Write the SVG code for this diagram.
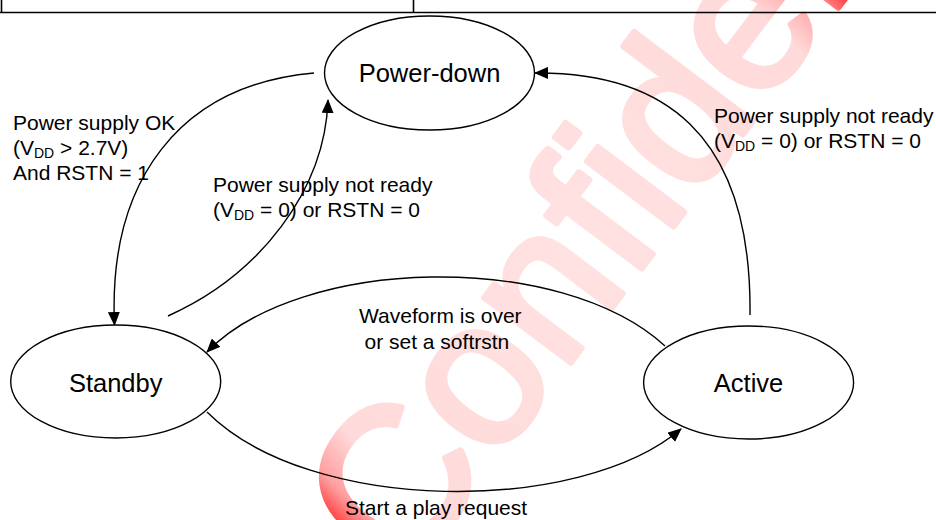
<svg xmlns="http://www.w3.org/2000/svg" width="936" height="520" viewBox="0 0 936 520">
  <defs>
    <radialGradient id="wm" gradientUnits="userSpaceOnUse" cx="372" cy="-60" r="370">
      <stop offset="0" stop-color="#ffe2e2"/>
      <stop offset="0.8" stop-color="#ffdada"/>
      <stop offset="0.92" stop-color="#ffa0a0"/>
      <stop offset="1" stop-color="#ff3030"/>
    </radialGradient>
    <marker id="arr" viewBox="0 0 14 12" refX="13" refY="6" markerWidth="14" markerHeight="12" markerUnits="userSpaceOnUse" orient="auto">
      <path d="M0,0 L14,6 L0,12 Z" fill="#000"/>
    </marker>
  </defs>
  <style>
    .node { fill: none; stroke: #000; stroke-width: 1.4; }
    .nlabel { font-family: "Liberation Sans", Arial, sans-serif; font-size: 25.5px; fill: #000; text-anchor: middle; }
    .elabel { font-family: "Liberation Sans", Arial, sans-serif; font-size: 21px; fill: #000; }
    .sub { font-size: 14px; }
    .edge { fill: none; stroke: #000; stroke-width: 1.4; marker-end: url(#arr); }
    .tbl { stroke: #000; stroke-width: 1.6; fill: none; }
  </style>
  <rect width="936" height="520" fill="#fff"/>

  <!-- watermark -->
  <g transform="translate(404.6,583.4) rotate(-53)">
    <text x="0" y="0" font-family="Liberation Sans, Arial, sans-serif" font-size="205" fill="url(#wm)" stroke="url(#wm)" stroke-width="6" stroke-linejoin="round">Confidential</text>
  </g>

  <!-- table remnant -->
  <g id="table">
    <line class="tbl" x1="0" y1="12.5" x2="936" y2="12.5"/>
    <line class="tbl" x1="1.5" y1="0" x2="1.5" y2="12.5"/>
    <line class="tbl" x1="413.5" y1="0" x2="413.5" y2="12.5"/>
  </g>

  <g id="connectors">
    <path class="edge" d="M314,73 C180,85 108,180 114.5,325"/>
    <path class="edge" d="M168,316 C260,275 325,190 328,100"/>
    <path class="edge" d="M750,315 C752,130 660,72 535,73"/>
    <path class="edge" d="M665,346 C560,250 300,256 207,352"/>
    <path class="edge" d="M207,412 C310,515 580,515 681,429"/>
  </g>

  <g id="node-powerdown">
    <ellipse class="node" cx="429.5" cy="73" rx="105" ry="57"/>
    <text class="nlabel" x="429.5" y="82">Power-down</text>
  </g>
  <g id="node-standby">
    <ellipse class="node" cx="115.7" cy="381.5" rx="105" ry="56.5"/>
    <text class="nlabel" x="115.7" y="392">Standby</text>
  </g>
  <g id="node-active">
    <ellipse class="node" cx="748.6" cy="382.5" rx="105" ry="56.5"/>
    <text class="nlabel" x="748.6" y="392">Active</text>
  </g>

  <g id="edge-labels">
    <text class="elabel" x="13" y="129.5">Power supply OK</text>
    <text class="elabel" x="13" y="155">(V<tspan class="sub" dy="3">DD</tspan><tspan dy="-3"> &gt; 2.7V)</tspan></text>
    <text class="elabel" x="13" y="180">And RSTN = 1</text>

    <text class="elabel" x="213" y="191.5">Power supply not ready</text>
    <text class="elabel" x="213" y="216.5">(V<tspan class="sub" dy="3">DD</tspan><tspan dy="-3"> = 0) or RSTN = 0</tspan></text>

    <text class="elabel" x="714" y="122.5">Power supply not ready</text>
    <text class="elabel" x="714" y="147.5">(V<tspan class="sub" dy="3">DD</tspan><tspan dy="-3"> = 0) or RSTN = 0</tspan></text>

    <text class="elabel" x="359" y="323">Waveform is over</text>
    <text class="elabel" x="364.5" y="348.5">or set a softrstn</text>

    <text class="elabel" x="345" y="515">Start a play request</text>
  </g>
</svg>
